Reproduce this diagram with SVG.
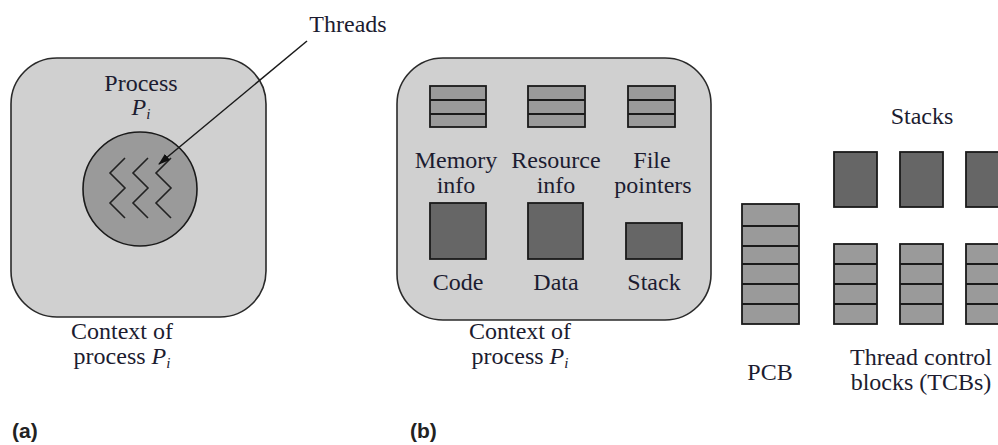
<svg xmlns="http://www.w3.org/2000/svg" width="998" height="445" viewBox="0 0 998 445">
  <style>
    .ctx { fill: #d0d0d0; stroke: #2a2a2a; stroke-width: 1.6; }
    .mid { fill: #9a9a9a; stroke: #1a1a1a; stroke-width: 1.8; }
    .dark { fill: #666666; stroke: #1a1a1a; stroke-width: 1.8; }
    .rule { stroke: #1a1a1a; stroke-width: 1.8; fill: none; }
    .zig { stroke: #222; stroke-width: 1.6; fill: none; }
    .lbl { font-family: 'Liberation Serif', 'DejaVu Serif', 'Times New Roman', serif; font-size: 24px; fill: #1c1c30; text-anchor: middle; }
    .it { font-style: italic; }
    .sub { font-size: 15px; font-style: italic; }
    .tag { font-family: 'Liberation Sans', Arial, sans-serif; font-weight: bold; font-size: 21px; fill: #222; }
  </style>
  <defs>
    <marker id="arrowhead" viewBox="0 0 12 8" refX="11" refY="4" markerWidth="12" markerHeight="8" markerUnits="userSpaceOnUse" orient="auto">
      <path d="M0,0 L12,4 L0,8 Z" fill="#111"/>
    </marker>
  </defs>

  <!-- (a) process with threads -->
  <g id="process-a">
    <rect class="ctx" x="11" y="58" width="255" height="259" rx="46" ry="46"/>
    <text class="lbl" x="141" y="91">Process</text>
    <text class="lbl" x="141" y="115"><tspan class="it">P</tspan><tspan class="sub" dy="4">i</tspan></text>
  </g>
  <g id="threads-a">
    <circle cx="140" cy="189" r="57" fill="#9a9a9a" stroke="#1a1a1a" stroke-width="1.6"/>
    <polyline class="zig" points="125,158 110,173 125,188 110,203 125,218"/>
    <polyline class="zig" points="148,158 133,173 148,188 133,203 148,218"/>
    <polyline class="zig" points="171,158 156,173 171,188 156,203 171,218"/>
  </g>
  <g id="label-threads">
    <text class="lbl" x="348" y="32">Threads</text>
  </g>
  <g id="caption-a">
    <text class="lbl" x="122" y="339">Context of</text>
    <text class="lbl" x="122" y="364">process <tspan class="it">P</tspan><tspan class="sub" dy="4">i</tspan></text>
    <text class="tag" x="12" y="438">(a)</text>
  </g>

  <!-- (b) context of process -->
  <g id="context-b">
    <rect class="ctx" x="397" y="58" width="314" height="262" rx="46" ry="46"/>
  </g>
  <g id="memory-info">
    <rect class="mid" x="430" y="86" width="56" height="41"/>
    <path class="rule" d="M430,100 H486 M430,114 H486"/>
    <text class="lbl" x="456" y="168">Memory</text>
    <text class="lbl" x="456" y="193">info</text>
  </g>
  <g id="resource-info">
    <rect class="mid" x="528" y="86" width="57" height="41"/>
    <path class="rule" d="M528,100 H585 M528,114 H585"/>
    <text class="lbl" x="556" y="168">Resource</text>
    <text class="lbl" x="556" y="193">info</text>
  </g>
  <g id="file-pointers">
    <rect class="mid" x="628" y="86" width="47" height="41"/>
    <path class="rule" d="M628,100 H675 M628,114 H675"/>
    <text class="lbl" x="652" y="168">File</text>
    <text class="lbl" x="653" y="193">pointers</text>
  </g>
  <g id="code">
    <rect class="dark" x="430" y="203" width="56" height="56"/>
    <text class="lbl" x="458" y="290">Code</text>
  </g>
  <g id="data">
    <rect class="dark" x="528" y="203" width="55" height="56"/>
    <text class="lbl" x="556" y="290">Data</text>
  </g>
  <g id="stack">
    <rect class="dark" x="626" y="223" width="56" height="36"/>
    <text class="lbl" x="654" y="290">Stack</text>
  </g>
  <g id="caption-b">
    <text class="lbl" x="520" y="339">Context of</text>
    <text class="lbl" x="520" y="364">process <tspan class="it">P</tspan><tspan class="sub" dy="4">i</tspan></text>
    <text class="tag" x="410" y="438">(b)</text>
  </g>

  <!-- PCB -->
  <g id="pcb">
    <rect class="mid" x="742" y="204" width="57" height="120"/>
    <path class="rule" d="M742,226 H799 M742,246 H799 M742,264 H799 M742,284 H799 M742,304 H799"/>
    <text class="lbl" x="770" y="380">PCB</text>
  </g>

  <!-- thread stacks -->
  <g id="stacks">
    <text class="lbl" x="922" y="124">Stacks</text>
    <rect class="dark" x="834" y="152" width="43" height="55"/>
    <rect class="dark" x="900" y="152" width="43" height="55"/>
    <rect class="dark" x="966" y="152" width="43" height="55"/>
  </g>

  <!-- thread control blocks -->
  <g id="tcbs">
    <rect class="mid" x="834" y="244" width="43" height="80"/>
    <rect class="mid" x="900" y="244" width="43" height="80"/>
    <rect class="mid" x="966" y="244" width="43" height="80"/>
    <path class="rule" d="M834,264 H877 M834,284 H877 M834,304 H877 M900,264 H943 M900,284 H943 M900,304 H943 M966,264 H1009 M966,284 H1009 M966,304 H1009"/>
    <text class="lbl" x="921" y="365">Thread control</text>
    <text class="lbl" x="921" y="390">blocks (TCBs)</text>
  </g>

  <g id="connectors">
    <line x1="307" y1="41" x2="159" y2="164" stroke="#1a1a1a" stroke-width="1.5" marker-end="url(#arrowhead)"/>
  </g>
</svg>
